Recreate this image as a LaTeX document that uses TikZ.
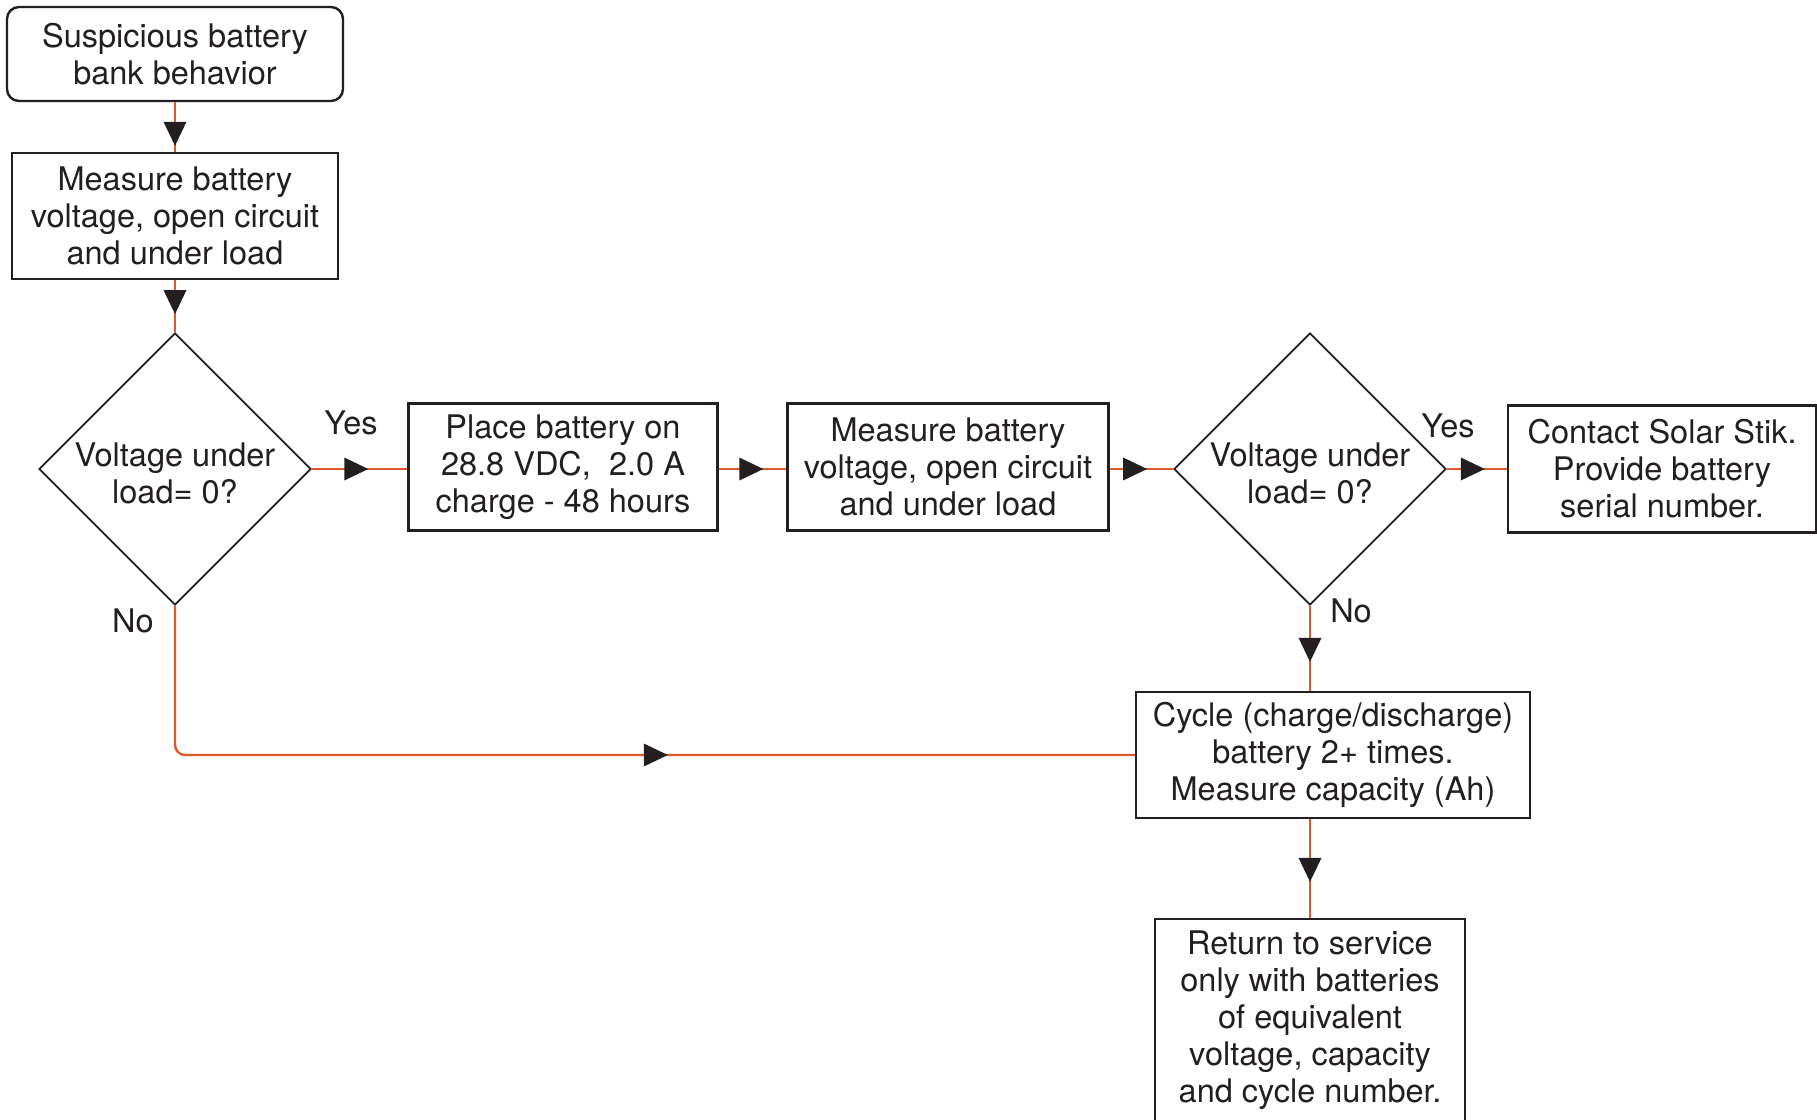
\documentclass[tikz,border=0pt]{standalone}
\usepackage{fontspec}
\setmainfont{TeX Gyre Heros}
\usetikzlibrary{shapes.geometric,decorations.markings}
\definecolor{lineor}{HTML}{E25A2C}
\definecolor{ink}{HTML}{231F20}
\tikzset{
  txt/.style={text=ink, font=\fontsize{32.5}{37}\selectfont, align=center, inner sep=0pt},
  box/.style={txt, draw=ink, line width=2.4pt},
  dia/.style={diamond, draw=ink, line width=1.8pt, aspect=1, minimum width=272pt, minimum height=272pt, inner sep=0pt},
  conn/.style={draw=lineor, line width=2.4pt},
  tipat/.style={postaction={decorate, decoration={markings, mark=at position #1 with {\fill[ink, sharp corners] (0pt,0pt) -- (-24pt,11.5pt) -- (-24pt,-11.5pt) -- cycle;}}}},
}
\begin{document}
\begin{tikzpicture}[x=1pt,y=-1pt]
\clip (0,0) rectangle (1817,1119);
\fill[white] (0,0) rectangle (1817,1119);
% nodes
\node[box, rounded corners=12pt, minimum width=336pt, minimum height=94pt] (b1) at (175,54) {Suspicious battery\\bank behavior};
\node[box, minimum width=326pt, minimum height=126pt] (b2) at (175,216) {Measure battery\\voltage, open circuit\\and under load};
\node[dia] (d1) at (175,469) {};
\node[txt] (t1) at (175,473) {Voltage under\\load= 0?};
\node[box, minimum width=309pt, minimum height=127pt] (b3) at (563,467) {Place battery on\\28.8 VDC,\ \ 2.0 A\\charge - 48 hours};
\node[box, minimum width=321pt, minimum height=127pt] (b4) at (948,467) {Measure battery\\voltage, open circuit\\and under load};
\node[dia] (d2) at (1310,469) {};
\node[txt] (t2) at (1310,473) {Voltage under\\load= 0?};
\node[box, minimum width=308pt, minimum height=127pt] (b5) at (1662,469) {Contact Solar Stik.\\Provide battery\\serial number.};
\node[box, minimum width=394pt, minimum height=126pt] (b6) at (1333,755) {Cycle (charge/discharge)\\battery 2+ times.\\Measure capacity (Ah)};
\node[box, minimum width=310pt, minimum height=202pt] (b7) at (1310,1020) {Return to service\\only with batteries\\of equivalent\\voltage, capacity\\and cycle number.};
% labels
\node[txt] (y1) at (351,423) {Yes};
\node[txt] (y2) at (1448,426) {Yes};
\node[txt] (n1) at (133,621) {No};
\node[txt] (n2) at (1351,611) {No};
% connectors
\draw[conn, tipat=-6pt] (b1.south) -- (b2.north);
\draw[conn, tipat=-18pt] (b2.south) -- (d1.north);
\draw[conn, tipat=-39pt] (d1.east) -- (d1.east -| b3.west);
\draw[conn, tipat=-23pt] (d1.east -| b3.east) -- (d1.east -| b4.west);
\draw[conn, tipat=-26pt] (d2.west -| b4.east) -- (d2.west);
\draw[conn, tipat=-22pt] (d2.east) -- (d2.east -| b5.west);
\draw[conn, tipat=-29pt] (d2.south) -- (d2.south |- b6.north);
\draw[conn, tipat=-36pt] (b7.north |- b6.south) -- (b7.north);
\draw[conn, rounded corners=10pt, tipat=-467pt] (d1.south) |- (b6.west);
\end{tikzpicture}
\end{document}
